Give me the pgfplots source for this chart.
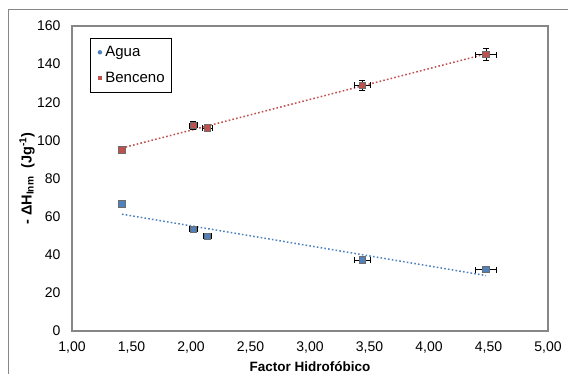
\documentclass[border=0pt]{standalone}
\usepackage{pgfplots}
\pgfplotsset{compat=1.18}
\usepackage{pgfplotstable}
\usepackage{fontspec}
\setmainfont{Liberation Sans}
\definecolor{aguaC}{HTML}{4F81BD}
\definecolor{bencC}{HTML}{C0504D}
\definecolor{frameC}{HTML}{868686}
\pgfplotstableread{
x y ex ey
1.42 95.0 0.02 1.5
2.02 107.8 0.03 2.0
2.14 106.5 0.04 1.8
3.44 128.9 0.07 2.5
4.48 145.0 0.09 3.2
}\benceno
\pgfplotstableread{
x y ex ey
1.42 66.6 0.02 1.0
2.02 53.4 0.035 1.0
2.14 49.6 0.035 0.6
3.44 37.2 0.07 0.6
4.48 32.2 0.09 0.6
}\agua
\begin{document}
\begin{tikzpicture}[x=1pt,y=1pt]
\useasboundingbox (0,0) rectangle (568,374);
\draw[frameC, line width=1pt] (8,0) -- (8,364) -- (568,364);
\begin{axis}[
  at={(72pt,43pt)}, anchor=south west,
  width=476pt, height=305pt, scale only axis,
  xmin=1, xmax=5, ymin=0, ymax=160,
  xtick={1,1.5,...,5}, ytick={0,20,...,160},
  major tick length=0pt,
  axis line style={frameC, line width=1.2pt},
  tick label style={font=\fontsize{14}{16}\selectfont},
  /pgf/number format/assume math mode=true,
  x tick label style={/pgf/number format/fixed, /pgf/number format/fixed zerofill,
    /pgf/number format/precision=2, /pgf/number format/use comma, yshift=-7pt},
  y tick label style={/pgf/number format/fixed, /pgf/number format/precision=0, xshift=-8pt},
  xlabel={\textbf{Factor Hidrofóbico}},
  xlabel style={font=\fontsize{13.5}{15}\selectfont, at={(0.5,0)}, anchor=center, yshift=-36pt},
  ylabel={\textbf{- ΔH\textsubscript{Inm}\ \ (Jg\textsuperscript{-1})}},
  ylabel style={font=\fontsize{14.5}{16}\selectfont, at={(0,0.5)}, anchor=center, yshift=45pt},
  legend style={at={(18pt,293pt)}, anchor=north west, draw=black, line width=0.8pt,
    font=\fontsize{15}{17}\selectfont, row sep=10pt, inner xsep=5pt, inner ysep=6pt,
    nodes={inner xsep=1.5pt}},
  legend cell align=left,
  clip=false,
]
\addlegendimage{legend image code/.code={\path[draw=none] (0pt,0pt) -- (8.5pt,0pt); \fill[aguaC, draw=none] (4.5pt,0pt) circle (2.2pt);}}
\addlegendentry{Agua}
\addlegendimage{legend image code/.code={\path[draw=none] (0pt,0pt) -- (8.5pt,0pt); \fill[bencC, draw=none] (2.2pt,-2.3pt) rectangle (6.8pt,2.3pt);}}
\addlegendentry{Benceno}
% trend lines
\addplot[forget plot, aguaC, line width=1.5pt, dash pattern=on 1.6pt off 2.2pt, no marks]
  table[x=x, y={create col/linear regression={y=y}}] {\agua};
\addplot[forget plot, bencC, line width=1.5pt, dash pattern=on 1.6pt off 2.2pt, no marks]
  table[x=x, y={create col/linear regression={y=y}}] {\benceno};
% data with error bars
\addplot[forget plot, only marks, mark=square*, mark size=3.2pt,
  mark options={fill=aguaC, draw=gray!85!black, line width=0.9pt},
  error bars/.cd, x dir=both, x explicit, y dir=both, y explicit,
  error bar style={black, line width=0.9pt}, error mark options={rotate=90, mark size=3pt, black, line width=0.9pt}]
  table[x=x, y=y, x error=ex, y error=ey] {\agua};
\addplot[forget plot, only marks, mark=square*, mark size=3.2pt,
  mark options={fill=bencC, draw=gray!85!black, line width=0.9pt},
  error bars/.cd, x dir=both, x explicit, y dir=both, y explicit,
  error bar style={black, line width=0.9pt}, error mark options={rotate=90, mark size=3pt, black, line width=0.9pt}]
  table[x=x, y=y, x error=ex, y error=ey] {\benceno};
\end{axis}
\end{tikzpicture}
\end{document}
